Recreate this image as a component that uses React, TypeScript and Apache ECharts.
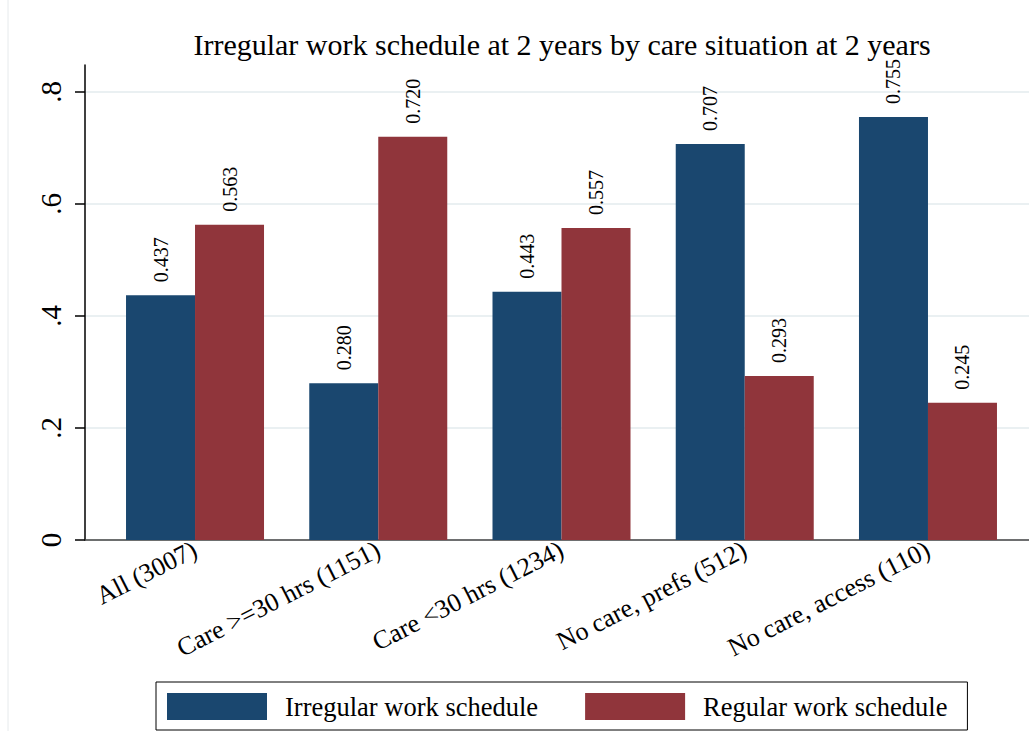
import React, { useEffect, useRef } from "react";
import * as echarts from "echarts";

const categories = [
  "All (3007)",
  "Care >=30 hrs (1151)",
  "Care <30 hrs (1234)",
  "No care, prefs (512)",
  "No care, access (110)",
];
const irregular = [0.437, 0.28, 0.443, 0.707, 0.755];
const regular = [0.563, 0.72, 0.557, 0.293, 0.245];
const yTicks = [0, 0.2, 0.4, 0.6, 0.8];
const seriesNames = ["Irregular work schedule", "Regular work schedule"];
const titleText = "Irregular work schedule at 2 years by care situation at 2 years";

const serif = "'Liberation Serif', 'Times New Roman', Times, serif";

export default function App() {
  const ref = useRef<HTMLDivElement>(null);
  useEffect(() => {
    if (!ref.current) return;
    const chart = echarts.init(ref.current, undefined, { renderer: "svg" });
    const barLabel = {
      show: true,
      position: "top",
      rotate: 90,
      align: "left",
      verticalAlign: "middle",
      distance: 13,
      formatter: (p: any) => Number(p.value).toFixed(3),
      fontFamily: serif,
      fontSize: 20,
      color: "#000",
    };
    const option: any = {
      animation: false,
      backgroundColor: "#fff",
      title: {
        text: titleText,
        left: 557,
        textAlign: "center",
        top: 24,
        textStyle: { fontFamily: serif, fontSize: 30, fontWeight: "normal", color: "#000" },
      },
      graphic: [
        {
          type: "line",
          shape: { x1: 8, y1: 0, x2: 8, y2: 731 },
          style: { stroke: "#e6eaec", lineWidth: 1 },
          silent: true,
        },
      ],
      grid: [
        { left: 85, right: -10, top: 65, bottom: 191 },
        { left: 103.4, right: 9.4, top: 65, bottom: 191 },
      ],
      xAxis: [
        {
          gridIndex: 0,
          type: "value",
          min: 0,
          max: 1,
          axisLine: { show: true, onZero: false, lineStyle: { color: "#444", width: 1.5 } },
          axisTick: { show: false },
          axisLabel: { show: false },
          splitLine: { show: false },
        },
        {
          gridIndex: 1,
          type: "category",
          data: categories,
          axisLine: { show: false },
          axisTick: { show: false },
          axisLabel: {
            interval: 0,
            rotate: 27,
            margin: 8,
            fontFamily: serif,
            fontSize: 26,
            color: "#000",
          },
        },
      ],
      yAxis: [
        {
          gridIndex: 0,
          type: "value",
          min: 0,
          max: 0.848,
          axisLine: { show: true, lineStyle: { color: "#000", width: 1.5 } },
          axisTick: {
            show: true,
            length: 10,
            customValues: yTicks,
            lineStyle: { color: "#000", width: 1.5 },
          },
          axisLabel: {
            customValues: yTicks,
            rotate: 90,
            margin: 20,
            fontFamily: serif,
            fontSize: 29,
            color: "#000",
            formatter: (v: number) => (v === 0 ? "0" : String(Number(v.toFixed(2))).replace(/^0\./, ".")),
          },
          splitLine: { show: true, lineStyle: { color: "#eaf0f2", width: 2 } },
        },
        { gridIndex: 1, type: "value", min: 0, max: 0.848, show: false },
      ],
      legend: {
        left: 156,
        top: 682,
        orient: "horizontal",
        itemWidth: 100,
        itemHeight: 27,
        itemGap: 47,
        padding: [11, 20, 10, 11],
        borderColor: "#000",
        borderWidth: 1,
        icon: "rect",
        textStyle: { fontFamily: serif, fontSize: 26.5, color: "#000", padding: [0, 0, 0, 13] },
        data: seriesNames,
      },
      series: [
        {
          type: "bar",
          name: seriesNames[0],
          xAxisIndex: 1,
          yAxisIndex: 1,
          data: irregular,
          barWidth: 69,
          barGap: "0%",
          itemStyle: { color: "#1a476f" },
          label: barLabel,
        },
        {
          type: "bar",
          name: seriesNames[1],
          xAxisIndex: 1,
          yAxisIndex: 1,
          data: regular,
          barWidth: 69,
          barGap: "0%",
          itemStyle: { color: "#90353b" },
          label: barLabel,
        },
      ],
    };
    chart.setOption(option);
    return () => chart.dispose();
  }, []);
  return (
    <div
      ref={ref}
      style={{ position: "absolute", left: 0, top: 0, width: 1029, height: 731 }}
    />
  );
}
